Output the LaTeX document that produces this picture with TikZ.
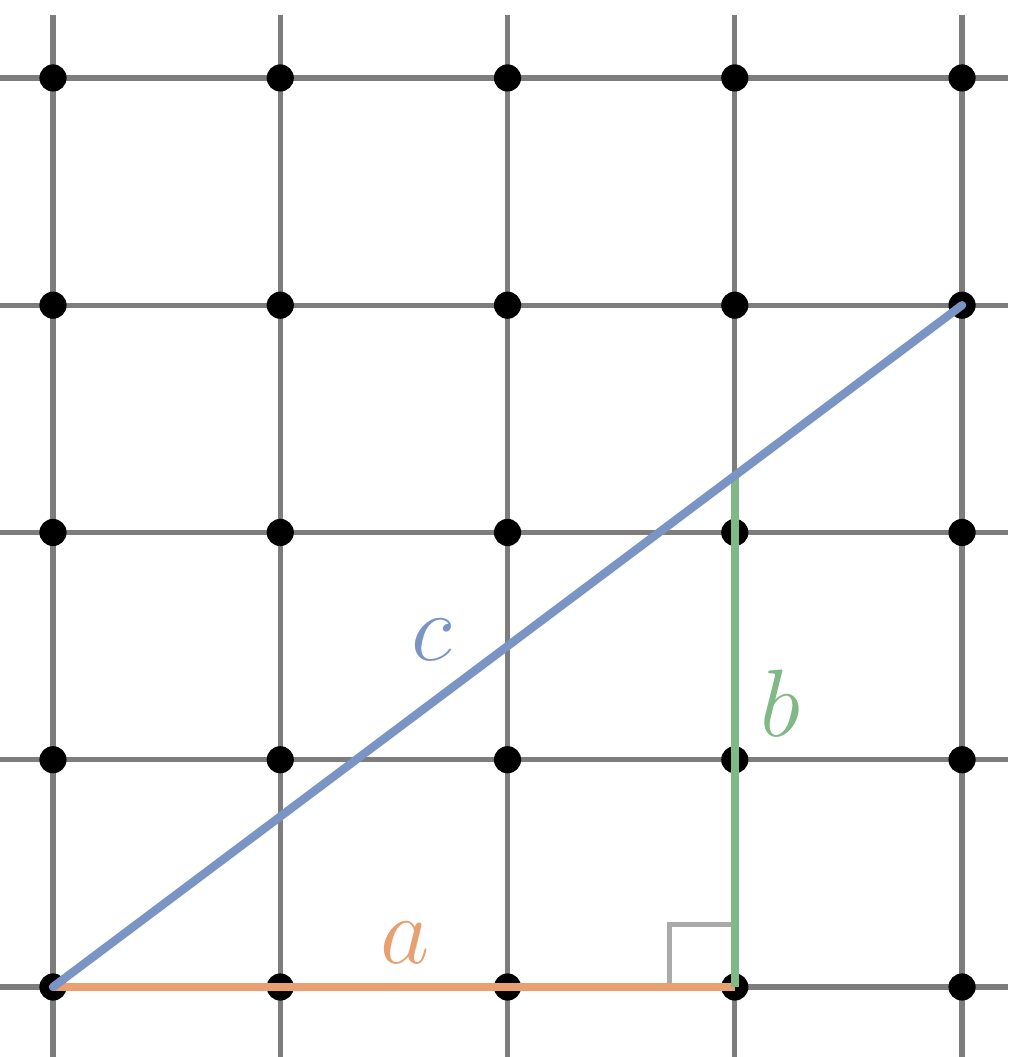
\documentclass[tikz,border=0pt]{standalone}
\usetikzlibrary{calc}
\definecolor{hypblue}{RGB}{122,148,196}
\definecolor{legGreen}{RGB}{128,184,134}
\definecolor{legOrange}{RGB}{232,160,112}
\definecolor{gridgray}{RGB}{125,125,125}
\definecolor{markgray}{RGB}{170,170,170}
\tikzset{
  gridline/.style={draw=gridgray,line width=0.65pt},
  gridpt/.style={circle,fill=black,inner sep=0pt,minimum size=3.4pt},
  hyp/.style={draw=hypblue,line width=1.05pt,line cap=round},
  legb/.style={draw=legGreen,line width=1.05pt},
  lega/.style={draw=legOrange,line width=1.05pt},
  rightmark/.style={draw=markgray,line width=0.65pt},
  lbl/.style={font=\fontsize{12.5}{14}\selectfont,inner sep=0pt}
}
\begin{document}
\begin{tikzpicture}[x=1cm,y=1cm]
\useasboundingbox (-0.2332,-0.308) rectangle (4.2024,4.3432);
\fill[white] (-0.2332,-0.308) rectangle (4.2024,4.3432);
% grid lines
\foreach \i in {0,...,4} {
  \draw[gridline] (\i,-0.308) -- (\i,4.277);
  \draw[gridline] (-0.2332,\i) -- (4.2024,\i);
}
% grid points
\foreach \i in {0,...,4} {
  \foreach \j in {0,...,4} {
    \node[gridpt] (p\i\j) at (\i,\j) {};
  }
}
% triangle vertices
\coordinate (A) at (0,0);
\coordinate (B) at (3,0);
\coordinate (C) at (4,3);
\coordinate (D) at (3,2.25);
% right angle mark
\draw[rightmark] ($(B)+(-0.286,0)$) -- ++(0,0.275) -- ++(0.286,0);
% sides
\draw[lega] (A) -- (B);
\draw[legb] (B) -- (D);
\draw[hyp] (A) -- (C);
% labels
\node[lbl,text=hypblue] (lc) at (1.668,1.527) {$c$};
\node[lbl,text=legGreen] (lb) at (3.199,1.250) {$b$};
\node[lbl,text=legOrange] (la) at (1.549,0.194) {$a$};
\end{tikzpicture}
\end{document}
